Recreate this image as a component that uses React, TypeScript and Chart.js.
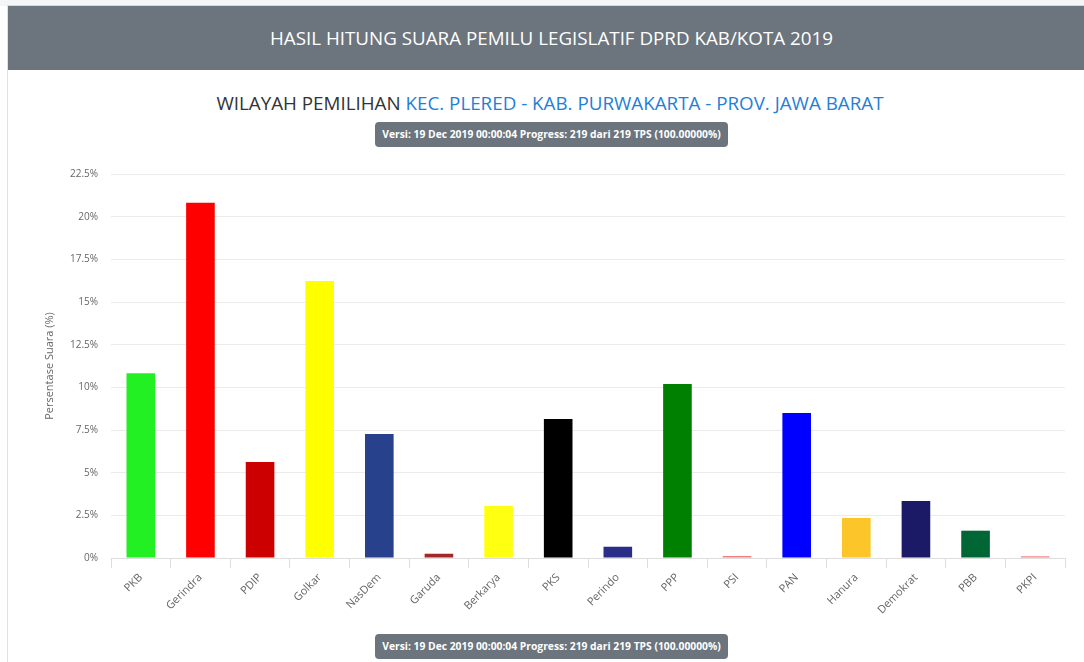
import React, { useEffect, useRef } from "react";
import { Chart, registerables } from "chart.js";

Chart.register(...registerables);

const parties = ["PKB", "Gerindra", "PDIP", "Golkar", "NasDem", "Garuda", "Berkarya", "PKS", "Perindo", "PPP", "PSI", "PAN", "Hanura", "Demokrat", "PBB", "PKPI"];
const votePercent = [10.82, 20.81, 5.62, 16.23, 7.26, 0.25, 3.05, 8.14, 0.66, 10.19, 0.12, 8.49, 2.34, 3.34, 1.6, 0.1];
const partyColors = ["#22f022", "#ff0000", "#cc0000", "#ffff00", "#27418c", "#a3262a", "#ffff11", "#000000", "#2b2e86", "#008000", "#f08080", "#0000ff", "#fcc52a", "#1a1a66", "#006633", "#f08080"];
const yTicks = [0, 2.5, 5, 7.5, 10, 12.5, 15, 17.5, 20, 22.5];

const headerTitle = "HASIL HITUNG SUARA PEMILU LEGISLATIF DPRD KAB/KOTA 2019";
const regionLabel = "WILAYAH PEMILIHAN";
const regionName = "KEC. PLERED - KAB. PURWAKARTA - PROV. JAWA BARAT";
const versionText = "Versi: 19 Dec 2019 00:00:04 Progress: 219 dari 219 TPS (100.00000%)";
const yAxisTitle = "Persentase Suara (%)";

const FONT = "'Open Sans', 'Noto Sans', sans-serif";

function Badge({ top }: { top: number }) {
  return (
    <div
      style={{
        position: "absolute",
        top,
        left: 375,
        width: 353,
        height: 25,
        background: "#6c757d",
        borderRadius: 4,
        color: "#fff",
        fontFamily: FONT,
        fontWeight: 700,
        fontSize: 10.3,
        lineHeight: "25px",
        textAlign: "center",
        whiteSpace: "nowrap",
      }}
    >
      {versionText}
    </div>
  );
}

export default function App() {
  const canvasRef = useRef<HTMLCanvasElement | null>(null);

  useEffect(() => {
    const ctx = canvasRef.current;
    if (!ctx) return;
    const chart = new Chart(ctx, {
      type: "bar",
      data: {
        labels: parties,
        datasets: [
          {
            data: votePercent,
            backgroundColor: partyColors,
            borderWidth: 0,
            barPercentage: 0.6,
            categoryPercentage: 0.8,
          },
        ],
      },
      options: {
        animation: false,
        responsive: false,
        maintainAspectRatio: false,
        layout: { padding: { top: 9, right: 5, left: 0, bottom: 0 } },
        plugins: { legend: { display: false }, tooltip: { enabled: false } },
        scales: {
          x: {
            grid: { drawOnChartArea: false, drawTicks: true, tickLength: 10, color: "#dddddd", offset: true },
            border: { color: "#dddddd" },
            ticks: {
              maxRotation: 45,
              minRotation: 45,
              color: "#666",
              font: { family: FONT, size: 11 },
              padding: 3,
            },
            afterFit: (scale: any) => {
              scale.height = 70;
            },
          },
          y: {
            min: 0,
            max: 22.5,
            afterBuildTicks: (scale: any) => {
              scale.ticks = yTicks.map((v) => ({ value: v }));
            },
            grid: { drawTicks: false, color: "#ebebeb" },
            border: { display: false },
            ticks: {
              color: "#666",
              font: { family: FONT, size: 10 },
              padding: 13,
              callback: (v: any) => `${v}%`,
            },
            title: {
              display: true,
              text: yAxisTitle,
              color: "#666",
              font: { family: FONT, size: 11 },
              padding: { top: 33, bottom: 4 },
            },
            afterFit: (scale: any) => {
              scale.width = 101;
            },
          },
        },
      },
    });
    return () => chart.destroy();
  }, []);

  return (
    <div style={{ position: "absolute", left: 0, top: 0, width: 1084, height: 662, background: "#fff", overflow: "hidden", fontFamily: FONT }}>
      <div style={{ position: "absolute", left: 0, top: 0, width: 1084, height: 6, background: "#f4f5f7" }} />
      <div style={{ position: "absolute", left: 7, top: 5, width: 1077, height: 657, borderLeft: "1px solid #dfe1e4", borderTop: "1px solid #d6d8db" }} />
      <div style={{ position: "absolute", left: 8, top: 6, width: 1076, height: 64, background: "#6c757d" }} />
      <div
        style={{
          position: "absolute",
          left: 0,
          top: 6,
          width: 1103,
          height: 64,
          color: "#fff",
          fontSize: 18.8,
          lineHeight: "64px",
          textAlign: "center",
          whiteSpace: "nowrap",
        }}
      >
        {headerTitle}
      </div>
      <div
        style={{
          position: "absolute",
          left: 0,
          top: 90,
          width: 1100,
          height: 26,
          fontSize: 18.8,
          lineHeight: "26px",
          textAlign: "center",
          color: "#333",
          whiteSpace: "nowrap",
        }}
      >
        {regionLabel} <span style={{ color: "#1f80d8" }}>{regionName}</span>
      </div>
      <Badge top={122} />
      <canvas ref={canvasRef} width={1060} height={473} style={{ position: "absolute", left: 10, top: 155, width: 1060, height: 473 }} />
      <Badge top={634} />
    </div>
  );
}
